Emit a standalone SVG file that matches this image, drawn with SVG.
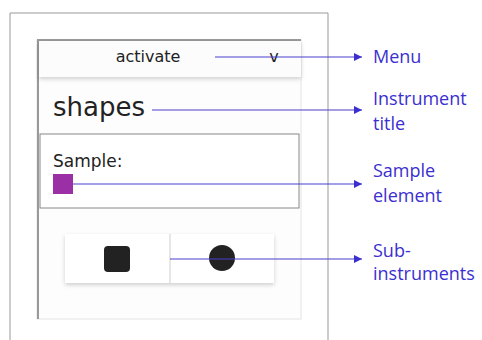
<svg xmlns="http://www.w3.org/2000/svg" width="482" height="340" viewBox="0 0 482 340">
<defs>
<style>
.ui{font-family:"DejaVu Sans",Verdana,sans-serif;fill:#222}
.lbl{font-family:"Open Sans","Liberation Sans",sans-serif;font-size:18px;fill:#3b2fcf}
.con{stroke:#4a3fd0;stroke-width:1.2;fill:none;marker-end:url(#ah)}
</style>
<marker id="ah" viewBox="0 0 10 10" refX="10" refY="5" markerWidth="8" markerHeight="8" markerUnits="userSpaceOnUse" orient="auto">
<path d="M0,0 L10,5 L0,10 z" fill="#3b2fcf"/>
</marker>
<filter id="sh" x="-10%" y="-20%" width="120%" height="160%">
<feDropShadow dx="0" dy="2" stdDeviation="2" flood-color="#000" flood-opacity="0.18"/>
</filter>
</defs>
<rect width="482" height="340" fill="#fff"/>
<g id="frame">
<path d="M10,340 V13 H328 V340" fill="#fff" stroke="#999" stroke-width="1"/>
</g>
<g id="panel">
<rect x="37" y="40" width="264" height="279" fill="#fdfdfd" stroke="#e4e4e4" stroke-width="1"/>
<line x1="38" y1="40" x2="38" y2="319" stroke="#999" stroke-width="2"/>
<line x1="37" y1="40" x2="301" y2="40" stroke="#999" stroke-width="2"/>
</g>
<g id="menu">
<rect x="39" y="41" width="262" height="36" fill="#fcfcfc" filter="url(#sh)"/>
<text class="ui" x="148" y="62" font-size="16" text-anchor="middle">activate</text>
<text class="ui" x="274" y="62" font-size="16" text-anchor="middle">v</text>
</g>
<g id="title">
<text class="ui" x="53" y="116" font-size="26">shapes</text>
</g>
<g id="sample">
<rect x="40" y="134" width="259" height="74" fill="#fff" stroke="#888" stroke-width="1"/>
<text class="ui" x="53" y="167" font-size="17">Sample:</text>
<rect x="53" y="174" width="20" height="20" fill="#9b2fa5"/>
</g>
<g id="subinstruments">
<rect x="65" y="234" width="209" height="49" fill="#fff" filter="url(#sh)"/>
<line x1="170" y1="234" x2="170" y2="283" stroke="#e6e6e6" stroke-width="2"/>
<rect x="104" y="246" width="26" height="26" rx="4" fill="#222"/>
<circle cx="222" cy="258" r="13" fill="#222"/>
</g>
<g id="connectors">
<line class="con" x1="215" y1="57" x2="362" y2="57"/>
<line class="con" x1="152" y1="110" x2="362" y2="110"/>
<line class="con" x1="73" y1="184" x2="362" y2="184"/>
<line class="con" x1="170" y1="259" x2="362" y2="259"/>
</g>
<g id="labels">
<text class="lbl" x="373" y="63">Menu</text>
<text class="lbl" x="373" y="105">Instrument</text>
<text class="lbl" x="373" y="130">title</text>
<text class="lbl" x="373" y="177">Sample</text>
<text class="lbl" x="373" y="202">element</text>
<text class="lbl" x="373" y="257">Sub-</text>
<text class="lbl" x="373" y="280">instruments</text>
</g>
</svg>
